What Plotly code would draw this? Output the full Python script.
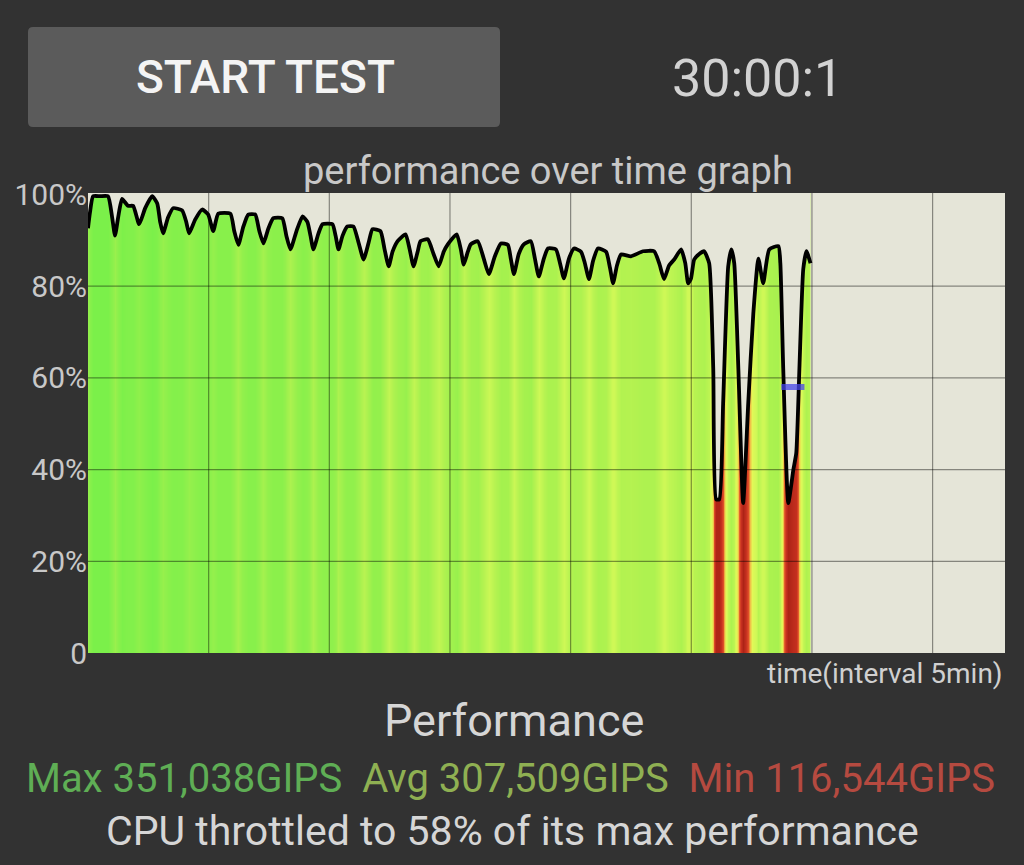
import plotly.graph_objects as go

# ---------------- data ----------------
times = [0.00, 0.08, 0.21, 0.50, 0.83, 1.00, 1.12, 1.25, 1.41, 1.66, 1.87, 2.12, 2.37, 2.66, 2.87,
         2.99, 3.11, 3.32, 3.53, 3.90, 4.07, 4.19, 4.44, 4.73, 4.98, 5.19, 5.40, 5.90, 6.06, 6.23,
         6.44, 6.64, 6.93, 7.10, 7.27, 7.47, 7.68, 8.05, 8.22, 8.39, 8.64, 8.89, 9.09, 9.22, 9.34,
         9.55, 9.72, 10.13, 10.26, 10.38, 10.55, 10.75, 11.00, 11.21, 11.42, 11.63, 11.79, 12.12,
         12.29, 12.46, 12.62, 12.83, 13.16, 13.33, 13.49, 13.66, 13.78, 14.08, 14.32, 14.53, 14.74,
         14.91, 15.28, 15.45, 15.57, 15.74, 15.86, 16.15, 16.40, 16.61, 16.86, 17.11, 17.40, 17.52,
         17.65, 17.85, 18.06, 18.35, 18.52, 18.68, 18.89, 19.06, 19.39, 19.56, 19.72, 19.93, 20.14,
         20.43, 20.59, 20.76, 20.93, 21.13, 21.47, 21.63, 21.76, 21.92, 22.09, 22.50, 23.00, 23.46,
         23.67, 23.87, 24.08, 24.29, 24.58, 24.75, 24.87, 24.99, 25.12, 25.33, 25.53, 25.74, 25.91,
         26.03, 26.16, 26.32, 26.53, 26.66, 26.78, 26.95, 27.15, 27.36, 27.57, 27.78, 27.98, 28.23,
         28.61, 28.69, 28.81, 29.02, 29.23, 29.35, 29.48, 29.64, 29.77, 29.94]
perf = [92.6, 96.0, 99.6, 99.6, 99.6, 95.0, 91.0, 95.0, 99.0, 97.5, 97.5, 93.5, 97.0, 99.6, 98.0,
        94.0, 91.5, 95.0, 97.0, 96.5, 94.0, 91.5, 94.5, 96.7, 95.6, 92.0, 95.8, 95.8, 92.0, 89.0,
        93.0, 95.6, 95.6, 92.0, 89.3, 92.5, 94.8, 94.8, 91.0, 88.0, 92.0, 95.2, 94.0, 91.0, 88.0,
        91.5, 93.5, 93.5, 91.0, 88.0, 91.0, 93.0, 93.0, 89.5, 85.8, 89.5, 92.4, 92.0,
        88.0, 84.3, 87.5, 89.8, 91.3, 88.0, 84.3, 87.5, 89.8, 90.2, 87.0, 84.3, 87.5,
        89.1, 91.3, 88.0, 84.7, 87.5, 89.1, 89.8, 86.0, 82.6, 86.5, 89.3, 89.0, 86.0,
        82.6, 87.0, 89.1, 89.8, 86.0, 82.1, 86.0, 88.2, 88.0, 85.0, 81.7, 86.0, 88.2,
        87.5, 85.0, 81.5, 85.5, 88.2, 87.5, 84.0, 80.6, 84.5, 86.9, 86.5, 87.6, 87.6,
        85.0, 81.5, 84.5, 85.8, 88.0, 85.0, 80.6, 81.7, 85.8, 87.0, 87.6, 85.0, 62.0,
        33.5, 33.5, 54.5, 84.3, 88.0, 85.0, 62.0, 32.7, 54.5, 74.0, 86.0, 80.6, 88.0,
        88.7, 85.0, 62.0, 32.7, 40.0, 43.6, 62.0, 83.7, 87.6, 85.0]

x_ticks = [0, 5, 10, 15, 20, 25, 30, 35]
y_ticks = [0, 20, 40, 60, 80, 100]
y_tick_text = ["0", "20%", "40%", "60%", "80%", "100%"]
throttle_pct = 58
throttle_window = [28.73, 29.69]

title_text = "performance over time graph"
x_title = "time(interval 5min)"
button_text = "START TEST"
timer_text = "30:00:1"
perf_title = "Performance"
max_text = "Max 351,038GIPS"
avg_text = "Avg 307,509GIPS"
min_text = "Min 116,544GIPS"
summary_text = "CPU throttled to 58% of its max performance"

# ---------------- styling ----------------
X_MAX = 38.0
Y_MAX = 100.3
BG = "#323232"
PLOT_BG = "#e5e5d8"
FONT = "Roboto"
SMOOTH = 0.5

W, H = 1024, 865
ML, MR, MT, MB = 88, 19, 193, 212
PW, PH = W - ML - MR, H - MT - MB


def px(x):
    return (x - ML) / PW


def py(y):
    return (H - MB - y) / PH


colorscale = [
    [0.000, "#a82014"],
    [0.214, "#c63020"],
    [0.357, "#e05028"],
    [0.457, "#f0c048"],
    [0.571, "#e2f858"],
    [0.743, "#cdf856"],
    [0.814, "#b2f250"],
    [0.886, "#94f04c"],
    [1.000, "#7af04a"],
]

fig = go.Figure()

# coloured fill (per-time colour)
fig.add_trace(go.Heatmap(
    x=times, y=[0, Y_MAX], z=[perf, perf],
    zmin=30, zmax=100, colorscale=colorscale, zsmooth="best",
    showscale=False, hoverinfo="skip"))

# mask above the curve
fig.add_trace(go.Scatter(x=times, y=[Y_MAX] * len(times), mode="lines",
                         line=dict(width=0), hoverinfo="skip", showlegend=False))
fig.add_trace(go.Scatter(x=times, y=perf, mode="lines", fill="tonexty",
                         fillcolor=PLOT_BG, line=dict(width=0, shape="spline", smoothing=SMOOTH),
                         hoverinfo="skip", showlegend=False))
# mask after the end of the data
fig.add_trace(go.Scatter(x=[times[-1], X_MAX, X_MAX, times[-1]], y=[0, 0, Y_MAX, Y_MAX],
                         mode="lines", fill="toself", fillcolor=PLOT_BG, line=dict(width=0),
                         hoverinfo="skip", showlegend=False))

# grid lines
gx, gy = [], []
for t in x_ticks[1:]:
    gx += [t, t, None]
    gy += [0, Y_MAX, None]
for v in y_ticks[1:-1]:
    gx += [0, X_MAX, None]
    gy += [v, v, None]
fig.add_trace(go.Scatter(x=gx, y=gy, mode="lines",
                         line=dict(color="rgba(0,0,0,0.42)", width=1.2),
                         hoverinfo="skip", showlegend=False))

# performance curve
fig.add_trace(go.Scatter(x=times, y=perf, mode="lines",
                         line=dict(color="#000000", width=3.8, shape="spline", smoothing=SMOOTH),
                         hoverinfo="skip", showlegend=False))

# throttle marker
fig.add_trace(go.Scatter(x=throttle_window, y=[throttle_pct, throttle_pct], mode="lines",
                         line=dict(color="rgba(70,70,235,0.75)", width=6),
                         hoverinfo="skip", showlegend=False))

# button (rounded rect) in paper coords
bx0, bx1, by0, by1 = px(28), px(500), py(127), py(27)
rx, ry = 5 / PW, 5 / PH
path = (f"M {bx0+rx},{by0} L {bx1-rx},{by0} Q {bx1},{by0} {bx1},{by0+ry} "
        f"L {bx1},{by1-ry} Q {bx1},{by1} {bx1-rx},{by1} L {bx0+rx},{by1} "
        f"Q {bx0},{by1} {bx0},{by1-ry} L {bx0},{by0+ry} Q {bx0},{by0} {bx0+rx},{by0} Z")
fig.add_shape(type="path", path=path, xref="paper", yref="paper",
              fillcolor="#5b5b5b", line=dict(width=0), layer="below")


def ann(text, x, y, size, color, xanchor="center", weight="normal"):
    fig.add_annotation(text=text, x=x, y=y, xref="paper", yref="paper",
                       xanchor=xanchor, yanchor="middle", showarrow=False,
                       font=dict(family=FONT, size=size, color=color, weight=weight))


ann(button_text, px(265), py(77), 46, "#f4f4f4", weight=500)
ann(timer_text, px(757), py(78), 52, "#d2d2d2")
ann(title_text, px(548), py(171), 38, "#c8c8c8")
ann(x_title, px(1005), py(673), 28, "#d0d0d0", xanchor="right")
ann(perf_title, px(514), py(720), 45, "#d6d6d6")
stats = (f"<span style='color:#5fae55'>{max_text}</span>  "
         f"<span style='color:#8fb052'>{avg_text}</span>  "
         f"<span style='color:#b54a40'>{min_text}</span>")
ann(stats, px(510), py(778), 40, "#5fae55")
ann(summary_text, px(512), py(831), 41, "#d6d6d6")

fig.update_layout(
    width=W, height=H,
    margin=dict(l=ML, r=MR, t=MT, b=MB, pad=0),
    paper_bgcolor=BG, plot_bgcolor=PLOT_BG,
    showlegend=False,
    xaxis=dict(range=[0, X_MAX], showgrid=False, zeroline=False, showticklabels=False,
               ticks="", showline=False, fixedrange=True),
    yaxis=dict(range=[0, Y_MAX], showgrid=False, zeroline=False, tickvals=y_ticks,
               ticktext=y_tick_text, ticks="", showline=False, fixedrange=True,
               tickfont=dict(family=FONT, size=30, color="#c8c8c8"),
               ticklabelstandoff=0),
    font=dict(family=FONT),
)

fig.write_html("out.html", post_script="document.body.style.margin='0px';",
               config={"displayModeBar": False})
